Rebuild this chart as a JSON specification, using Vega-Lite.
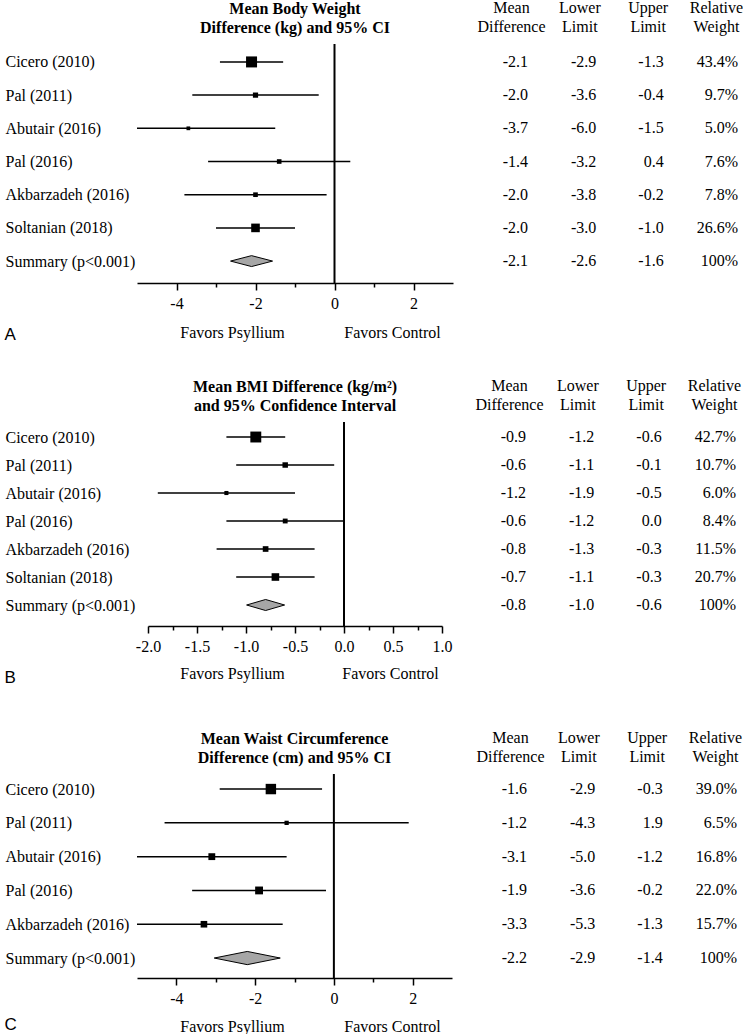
{
  "$schema": "https://vega.github.io/schema/vega-lite/v6.json",
  "padding": {"left": 4, "top": -1, "right": 0, "bottom": 0},
  "config": {
    "view": {"stroke": null},
    "font": "Liberation Serif",
    "locale": {"number": {"decimal": ".", "thousands": ",", "grouping": [3], "currency": ["$", ""], "minus": "-"}},
    "text": {"font": "Liberation Serif", "fontSize": 16, "color": "black"},
    "axis": {"labelFont": "Liberation Serif", "labelFontSize": 16, "labelColor": "black", "titleFont": "Liberation Serif", "titleFontSize": 16, "titleFontWeight": "normal", "titleColor": "black", "domainColor": "black", "tickColor": "black", "grid": false},
    "title": {"font": "Liberation Serif", "fontSize": 16, "fontWeight": "bold", "color": "black", "lineHeight": 19, "anchor": "middle", "frame": "group", "offset": 7}
  },
  "datasets": {
    "rows": [
      {"panel": "A", "study": "Cicero (2010)", "kind": "study", "mean": -2.1, "lower": -2.9, "upper": -1.3, "weight": 0.434},
      {"panel": "A", "study": "Pal (2011)", "kind": "study", "mean": -2.0, "lower": -3.6, "upper": -0.4, "weight": 0.097},
      {"panel": "A", "study": "Abutair (2016)", "kind": "study", "mean": -3.7, "lower": -6.0, "upper": -1.5, "weight": 0.050},
      {"panel": "A", "study": "Pal (2016)", "kind": "study", "mean": -1.4, "lower": -3.2, "upper": 0.4, "weight": 0.076},
      {"panel": "A", "study": "Akbarzadeh (2016)", "kind": "study", "mean": -2.0, "lower": -3.8, "upper": -0.2, "weight": 0.078},
      {"panel": "A", "study": "Soltanian (2018)", "kind": "study", "mean": -2.0, "lower": -3.0, "upper": -1.0, "weight": 0.266},
      {"panel": "A", "study": "Summary (p<0.001)", "kind": "summary", "mean": -2.1, "lower": -2.6, "upper": -1.6, "weight": 1.0},
      {"panel": "B", "study": "Cicero (2010)", "kind": "study", "mean": -0.9, "lower": -1.2, "upper": -0.6, "weight": 0.427},
      {"panel": "B", "study": "Pal (2011)", "kind": "study", "mean": -0.6, "lower": -1.1, "upper": -0.1, "weight": 0.107},
      {"panel": "B", "study": "Abutair (2016)", "kind": "study", "mean": -1.2, "lower": -1.9, "upper": -0.5, "weight": 0.060},
      {"panel": "B", "study": "Pal (2016)", "kind": "study", "mean": -0.6, "lower": -1.2, "upper": 0.0, "weight": 0.084},
      {"panel": "B", "study": "Akbarzadeh (2016)", "kind": "study", "mean": -0.8, "lower": -1.3, "upper": -0.3, "weight": 0.115},
      {"panel": "B", "study": "Soltanian (2018)", "kind": "study", "mean": -0.7, "lower": -1.1, "upper": -0.3, "weight": 0.207},
      {"panel": "B", "study": "Summary (p<0.001)", "kind": "summary", "mean": -0.8, "lower": -1.0, "upper": -0.6, "weight": 1.0},
      {"panel": "C", "study": "Cicero (2010)", "kind": "study", "mean": -1.6, "lower": -2.9, "upper": -0.3, "weight": 0.390},
      {"panel": "C", "study": "Pal (2011)", "kind": "study", "mean": -1.2, "lower": -4.3, "upper": 1.9, "weight": 0.065},
      {"panel": "C", "study": "Abutair (2016)", "kind": "study", "mean": -3.1, "lower": -5.0, "upper": -1.2, "weight": 0.168},
      {"panel": "C", "study": "Pal (2016)", "kind": "study", "mean": -1.9, "lower": -3.6, "upper": -0.2, "weight": 0.220},
      {"panel": "C", "study": "Akbarzadeh (2016)", "kind": "study", "mean": -3.3, "lower": -5.3, "upper": -1.3, "weight": 0.157},
      {"panel": "C", "study": "Summary (p<0.001)", "kind": "summary", "mean": -2.2, "lower": -2.9, "upper": -1.4, "weight": 1.0}
    ]
  },
  "columns": 1,
  "spacing": 35,
  "concat": [
    {
      "hconcat": [
        {
          "width": 316, "height": 239,
          "title": {"text": ["Mean Body Weight", "Difference (kg) and 95% CI"]},
          "data": {"name": "rows"},
          "transform": [{"filter": "datum.panel === 'A'"}],
          "layer": [
            {
              "transform": [{"filter": "datum.kind === 'study'"}],
              "mark": {"type": "rule", "strokeWidth": 1.5, "color": "black", "clip": true},
              "encoding": {
                "y": {"field": "study", "type": "nominal", "sort": null, "scale": {"type": "point", "padding": 0.6, "align": 0.45, "domain": ["Cicero (2010)", "Pal (2011)", "Abutair (2016)", "Pal (2016)", "Akbarzadeh (2016)", "Soltanian (2018)", "Summary (p<0.001)"]}, "axis": {"title": "A", "titleAngle": 0, "titleAlign": "left", "titleBaseline": "middle", "titleX": -133, "titleY": 290, "titleFont": "Liberation Sans", "titleFontSize": 17, "domain": false, "ticks": false, "tickSize": 0, "labelAlign": "left", "labelPadding": 132, "labelLimit": 300}},
                "x": {"field": "lower", "type": "quantitative", "scale": {"domain": [-5, 3], "nice": false, "zero": false}, "axis": {"orient": "bottom", "title": "Favors Psyllium", "titleX": 95, "titleY": 49, "titleAlign": "center", "titleBaseline": "middle", "values": [-4, -3, -2, -1, 0, 1, 2], "labelExpr": "datum.value % 2 === 0 ? datum.label : ''", "tickSize": {"condition": {"test": "datum.value % 2 === 0", "value": 7}, "value": 4}, "tickWidth": 1.5, "domainWidth": 1.5, "labelFlush": false, "labelBaseline": "middle", "labelPadding": 13}},
                "x2": {"field": "upper"}
              }
            },
            {
              "transform": [{"filter": "datum.kind === 'study'"}],
              "mark": {"type": "point", "shape": "square", "filled": true, "color": "black", "opacity": 1},
              "encoding": {
                "y": {"field": "study", "type": "nominal", "sort": null, "scale": {"type": "point", "padding": 0.6, "align": 0.45, "domain": ["Cicero (2010)", "Pal (2011)", "Abutair (2016)", "Pal (2016)", "Akbarzadeh (2016)", "Soltanian (2018)", "Summary (p<0.001)"]}, "axis": {"title": "A", "titleAngle": 0, "titleAlign": "left", "titleBaseline": "middle", "titleX": -133, "titleY": 290, "titleFont": "Liberation Sans", "titleFontSize": 17, "domain": false, "ticks": false, "tickSize": 0, "labelAlign": "left", "labelPadding": 132, "labelLimit": 300}},
                "x": {"field": "mean", "type": "quantitative", "axis": {"orient": "bottom", "title": "Favors Control", "titleX": 255, "titleY": 49, "titleAlign": "center", "titleBaseline": "middle", "domain": false, "ticks": false, "labels": false}},
                "size": {"field": "weight", "type": "quantitative", "scale": {"range": [0, 121], "zero": true, "nice": false}, "legend": null}
              }
            },
            {
              "transform": [{"filter": "datum.kind === 'summary'"}],
              "mark": {"type": "point", "shape": "M-1,0L0,-0.26L1,0L0,0.26Z", "size": 1764, "filled": true, "fill": "#a6a6a6", "stroke": "black", "strokeWidth": 1, "opacity": 1},
              "encoding": {
                "y": {"field": "study", "type": "nominal", "sort": null, "scale": {"type": "point", "padding": 0.6, "align": 0.45, "domain": ["Cicero (2010)", "Pal (2011)", "Abutair (2016)", "Pal (2016)", "Akbarzadeh (2016)", "Soltanian (2018)", "Summary (p<0.001)"]}, "axis": {"title": "A", "titleAngle": 0, "titleAlign": "left", "titleBaseline": "middle", "titleX": -133, "titleY": 290, "titleFont": "Liberation Sans", "titleFontSize": 17, "domain": false, "ticks": false, "tickSize": 0, "labelAlign": "left", "labelPadding": 132, "labelLimit": 300}},
                "x": {"field": "mean", "type": "quantitative", "axis": null}
              }
            },
            {
              "transform": [{"filter": "datum.kind === 'summary'"}],
              "mark": {"type": "rule", "strokeWidth": 2, "color": "black"},
              "encoding": {"x": {"datum": 0, "type": "quantitative", "axis": null}}
            }
          ],
          "resolve": {"axis": {"x": "independent"}}
        },
        {
          "width": 205, "height": 239,
          "data": {"name": "rows"},
          "transform": [{"filter": "datum.panel === 'A'"}],
          "encoding": {"y": {"field": "study", "type": "nominal", "sort": null, "scale": {"type": "point", "padding": 0.6, "align": 0.45, "domain": ["Cicero (2010)", "Pal (2011)", "Abutair (2016)", "Pal (2016)", "Akbarzadeh (2016)", "Soltanian (2018)", "Summary (p<0.001)"]}, "axis": null}},
          "layer": [
            {"mark": {"type": "text", "align": "right", "dx": 17}, "encoding": {"x": {"datum": "Mean Difference", "type": "nominal", "scale": {"type": "point", "padding": 0, "domain": ["Mean Difference", "Lower Limit", "Upper Limit", "Relative Weight"]}, "axis": {"orient": "top", "title": null, "domain": false, "ticks": false, "tickSize": 0, "labelPadding": 29, "labelAngle": 0, "labelExpr": "split(datum.label, ' ')", "labelLineHeight": 19, "labelBaseline": "bottom"}}, "text": {"field": "mean", "type": "quantitative", "format": ".1f"}}},
            {"mark": {"type": "text", "align": "right", "dx": 17}, "encoding": {"x": {"datum": "Lower Limit", "type": "nominal", "axis": {"orient": "top", "title": null, "domain": false, "ticks": false, "tickSize": 0, "labelPadding": 29, "labelAngle": 0, "labelExpr": "split(datum.label, ' ')", "labelLineHeight": 19, "labelBaseline": "bottom"}}, "text": {"field": "lower", "type": "quantitative", "format": ".1f"}}},
            {"mark": {"type": "text", "align": "right", "dx": 16}, "encoding": {"x": {"datum": "Upper Limit", "type": "nominal", "axis": {"orient": "top", "title": null, "domain": false, "ticks": false, "tickSize": 0, "labelPadding": 29, "labelAngle": 0, "labelExpr": "split(datum.label, ' ')", "labelLineHeight": 19, "labelBaseline": "bottom"}}, "text": {"field": "upper", "type": "quantitative", "format": ".1f"}}},
            {"mark": {"type": "text", "align": "right", "dx": 22}, "encoding": {"x": {"datum": "Relative Weight", "type": "nominal", "axis": {"orient": "top", "title": null, "domain": false, "ticks": false, "tickSize": 0, "labelPadding": 29, "labelAngle": 0, "labelExpr": "split(datum.label, ' ')", "labelLineHeight": 19, "labelBaseline": "bottom"}}, "text": {"condition": {"test": "datum.weight >= 1", "value": "100%"}, "field": "weight", "type": "quantitative", "format": ".1%"}}}
          ]
        }
      ],
      "spacing": 23
    },
    {
      "columns": 1,
      "spacing": 44,
      "concat": [
        {
          "hconcat": [
            {
              "width": 305, "height": 204,
              "title": {"text": ["Mean BMI Difference (kg/m²)", "and 95% Confidence Interval"], "dx": 5.5},
              "data": {"name": "rows"},
              "transform": [{"filter": "datum.panel === 'B'"}],
              "layer": [
                {
                  "transform": [{"filter": "datum.kind === 'study'"}],
                  "mark": {"type": "rule", "strokeWidth": 1.5, "color": "black", "clip": true},
                  "encoding": {
                    "y": {"field": "study", "type": "nominal", "sort": null, "scale": {"type": "point", "padding": 0.643, "align": 0.417, "domain": ["Cicero (2010)", "Pal (2011)", "Abutair (2016)", "Pal (2016)", "Akbarzadeh (2016)", "Soltanian (2018)", "Summary (p<0.001)"]}, "axis": {"title": "B", "titleAngle": 0, "titleAlign": "left", "titleBaseline": "middle", "titleX": -133, "titleY": 255, "titleFont": "Liberation Sans", "titleFontSize": 17, "domain": false, "ticks": false, "tickSize": 0, "labelAlign": "left", "labelPadding": 132, "labelLimit": 300}},
                    "x": {"field": "lower", "type": "quantitative", "scale": {"domain": [-2, 1], "range": [11, 305], "nice": false, "zero": false}, "axis": {"orient": "bottom", "title": "Favors Psyllium", "titleX": 95, "titleY": 47, "titleAlign": "center", "titleBaseline": "middle", "values": [-2, -1.75, -1.5, -1.25, -1, -0.75, -0.5, -0.25, 0, 0.25, 0.5, 0.75, 1], "format": ".1f", "labelExpr": "abs(datum.value * 2 - round(datum.value * 2)) < 0.000001 ? datum.label : ''", "tickSize": {"condition": {"test": "abs(datum.value * 2 - round(datum.value * 2)) < 0.000001", "value": 7}, "value": 4}, "tickWidth": 1.5, "domainWidth": 1.5, "labelFlush": false, "labelBaseline": "middle", "labelPadding": 13}},
                    "x2": {"field": "upper"}
                  }
                },
                {
                  "transform": [{"filter": "datum.kind === 'study'"}],
                  "mark": {"type": "point", "shape": "square", "filled": true, "color": "black", "opacity": 1},
                  "encoding": {
                    "y": {"field": "study", "type": "nominal", "sort": null, "scale": {"type": "point", "padding": 0.643, "align": 0.417, "domain": ["Cicero (2010)", "Pal (2011)", "Abutair (2016)", "Pal (2016)", "Akbarzadeh (2016)", "Soltanian (2018)", "Summary (p<0.001)"]}, "axis": {"title": "B", "titleAngle": 0, "titleAlign": "left", "titleBaseline": "middle", "titleX": -133, "titleY": 255, "titleFont": "Liberation Sans", "titleFontSize": 17, "domain": false, "ticks": false, "tickSize": 0, "labelAlign": "left", "labelPadding": 132, "labelLimit": 300}},
                    "x": {"field": "mean", "type": "quantitative", "axis": {"orient": "bottom", "title": "Favors Control", "titleX": 253, "titleY": 47, "titleAlign": "center", "titleBaseline": "middle", "domain": false, "ticks": false, "labels": false}},
                    "size": {"field": "weight", "type": "quantitative", "scale": {"range": [0, 121], "zero": true, "nice": false}, "legend": null}
                  }
                },
                {
                  "transform": [{"filter": "datum.kind === 'summary'"}],
                  "mark": {"type": "point", "shape": "M-1,0L0,-0.29L1,0L0,0.29Z", "size": 1444, "filled": true, "fill": "#a6a6a6", "stroke": "black", "strokeWidth": 1, "opacity": 1},
                  "encoding": {
                    "y": {"field": "study", "type": "nominal", "sort": null, "scale": {"type": "point", "padding": 0.643, "align": 0.417, "domain": ["Cicero (2010)", "Pal (2011)", "Abutair (2016)", "Pal (2016)", "Akbarzadeh (2016)", "Soltanian (2018)", "Summary (p<0.001)"]}, "axis": {"title": "B", "titleAngle": 0, "titleAlign": "left", "titleBaseline": "middle", "titleX": -133, "titleY": 255, "titleFont": "Liberation Sans", "titleFontSize": 17, "domain": false, "ticks": false, "tickSize": 0, "labelAlign": "left", "labelPadding": 132, "labelLimit": 300}},
                    "x": {"field": "mean", "type": "quantitative", "axis": null}
                  }
                },
                {
                  "transform": [{"filter": "datum.kind === 'summary'"}],
                  "mark": {"type": "rule", "strokeWidth": 2, "color": "black"},
                  "encoding": {"x": {"datum": 0, "type": "quantitative", "axis": null}}
                }
              ],
              "resolve": {"axis": {"x": "independent"}}
            },
            {
              "width": 205, "height": 204,
              "data": {"name": "rows"},
              "transform": [{"filter": "datum.panel === 'B'"}],
              "encoding": {"y": {"field": "study", "type": "nominal", "sort": null, "scale": {"type": "point", "padding": 0.643, "align": 0.417, "domain": ["Cicero (2010)", "Pal (2011)", "Abutair (2016)", "Pal (2016)", "Akbarzadeh (2016)", "Soltanian (2018)", "Summary (p<0.001)"]}, "axis": null}},
              "layer": [
                {"mark": {"type": "text", "align": "right", "dx": 17}, "encoding": {"x": {"datum": "Mean Difference", "type": "nominal", "scale": {"type": "point", "padding": 0, "domain": ["Mean Difference", "Lower Limit", "Upper Limit", "Relative Weight"]}, "axis": {"orient": "top", "title": null, "domain": false, "ticks": false, "tickSize": 0, "labelPadding": 29, "labelAngle": 0, "labelExpr": "split(datum.label, ' ')", "labelLineHeight": 19, "labelBaseline": "bottom"}}, "text": {"field": "mean", "type": "quantitative", "format": ".1f"}}},
                {"mark": {"type": "text", "align": "right", "dx": 17}, "encoding": {"x": {"datum": "Lower Limit", "type": "nominal", "axis": {"orient": "top", "title": null, "domain": false, "ticks": false, "tickSize": 0, "labelPadding": 29, "labelAngle": 0, "labelExpr": "split(datum.label, ' ')", "labelLineHeight": 19, "labelBaseline": "bottom"}}, "text": {"field": "lower", "type": "quantitative", "format": ".1f"}}},
                {"mark": {"type": "text", "align": "right", "dx": 16}, "encoding": {"x": {"datum": "Upper Limit", "type": "nominal", "axis": {"orient": "top", "title": null, "domain": false, "ticks": false, "tickSize": 0, "labelPadding": 29, "labelAngle": 0, "labelExpr": "split(datum.label, ' ')", "labelLineHeight": 19, "labelBaseline": "bottom"}}, "text": {"field": "upper", "type": "quantitative", "format": ".1f"}}},
                {"mark": {"type": "text", "align": "right", "dx": 22}, "encoding": {"x": {"datum": "Relative Weight", "type": "nominal", "axis": {"orient": "top", "title": null, "domain": false, "ticks": false, "tickSize": 0, "labelPadding": 29, "labelAngle": 0, "labelExpr": "split(datum.label, ' ')", "labelLineHeight": 19, "labelBaseline": "bottom"}}, "text": {"condition": {"test": "datum.weight >= 1", "value": "100%"}, "field": "weight", "type": "quantitative", "format": ".1%"}}}
              ]
            }
          ],
          "spacing": 22
        },
        {
          "hconcat": [
            {
              "width": 315, "height": 204,
              "title": {"text": ["Mean Waist Circumference", "Difference (cm) and 95% CI"]},
              "data": {"name": "rows"},
              "transform": [{"filter": "datum.panel === 'C'"}],
              "layer": [
                {
                  "transform": [{"filter": "datum.kind === 'study'"}],
                  "mark": {"type": "rule", "strokeWidth": 1.5, "color": "black", "clip": true},
                  "encoding": {
                    "y": {"field": "study", "type": "nominal", "sort": null, "scale": {"type": "point", "padding": 0.518, "align": 0.43, "domain": ["Cicero (2010)", "Pal (2011)", "Abutair (2016)", "Pal (2016)", "Akbarzadeh (2016)", "Summary (p<0.001)"]}, "axis": {"title": "C", "titleAngle": 0, "titleAlign": "left", "titleBaseline": "middle", "titleX": -133, "titleY": 250, "titleFont": "Liberation Sans", "titleFontSize": 17, "domain": false, "ticks": false, "tickSize": 0, "labelAlign": "left", "labelPadding": 132, "labelLimit": 300}},
                    "x": {"field": "lower", "type": "quantitative", "scale": {"domain": [-5, 3], "nice": false, "zero": false}, "axis": {"orient": "bottom", "title": "Favors Psyllium", "titleX": 95, "titleY": 48, "titleAlign": "center", "titleBaseline": "middle", "values": [-4, -3, -2, -1, 0, 1, 2], "labelExpr": "datum.value % 2 === 0 ? datum.label : ''", "tickSize": {"condition": {"test": "datum.value % 2 === 0", "value": 7}, "value": 4}, "tickWidth": 1.5, "domainWidth": 1.5, "labelFlush": false, "labelBaseline": "middle", "labelPadding": 13}},
                    "x2": {"field": "upper"}
                  }
                },
                {
                  "transform": [{"filter": "datum.kind === 'study'"}],
                  "mark": {"type": "point", "shape": "square", "filled": true, "color": "black", "opacity": 1},
                  "encoding": {
                    "y": {"field": "study", "type": "nominal", "sort": null, "scale": {"type": "point", "padding": 0.518, "align": 0.43, "domain": ["Cicero (2010)", "Pal (2011)", "Abutair (2016)", "Pal (2016)", "Akbarzadeh (2016)", "Summary (p<0.001)"]}, "axis": {"title": "C", "titleAngle": 0, "titleAlign": "left", "titleBaseline": "middle", "titleX": -133, "titleY": 250, "titleFont": "Liberation Sans", "titleFontSize": 17, "domain": false, "ticks": false, "tickSize": 0, "labelAlign": "left", "labelPadding": 132, "labelLimit": 300}},
                    "x": {"field": "mean", "type": "quantitative", "axis": {"orient": "bottom", "title": "Favors Control", "titleX": 255, "titleY": 48, "titleAlign": "center", "titleBaseline": "middle", "domain": false, "ticks": false, "labels": false}},
                    "size": {"field": "weight", "type": "quantitative", "scale": {"range": [0, 121], "zero": true, "nice": false}, "legend": null}
                  }
                },
                {
                  "transform": [{"filter": "datum.kind === 'summary'"}],
                  "mark": {"type": "point", "shape": "M-1,0L0,-0.2L1,0L0,0.2Z", "size": 4356, "filled": true, "fill": "#a6a6a6", "stroke": "black", "strokeWidth": 1, "opacity": 1},
                  "encoding": {
                    "y": {"field": "study", "type": "nominal", "sort": null, "scale": {"type": "point", "padding": 0.518, "align": 0.43, "domain": ["Cicero (2010)", "Pal (2011)", "Abutair (2016)", "Pal (2016)", "Akbarzadeh (2016)", "Summary (p<0.001)"]}, "axis": {"title": "C", "titleAngle": 0, "titleAlign": "left", "titleBaseline": "middle", "titleX": -133, "titleY": 250, "titleFont": "Liberation Sans", "titleFontSize": 17, "domain": false, "ticks": false, "tickSize": 0, "labelAlign": "left", "labelPadding": 132, "labelLimit": 300}},
                    "x": {"field": "mean", "type": "quantitative", "axis": null}
                  }
                },
                {
                  "transform": [{"filter": "datum.kind === 'summary'"}],
                  "mark": {"type": "rule", "strokeWidth": 2, "color": "black"},
                  "encoding": {"x": {"datum": 0, "type": "quantitative", "axis": null}}
                }
              ],
              "resolve": {"axis": {"x": "independent"}}
            },
            {
              "width": 205, "height": 204,
              "data": {"name": "rows"},
              "transform": [{"filter": "datum.panel === 'C'"}],
              "encoding": {"y": {"field": "study", "type": "nominal", "sort": null, "scale": {"type": "point", "padding": 0.518, "align": 0.43, "domain": ["Cicero (2010)", "Pal (2011)", "Abutair (2016)", "Pal (2016)", "Akbarzadeh (2016)", "Summary (p<0.001)"]}, "axis": null}},
              "layer": [
                {"mark": {"type": "text", "align": "right", "dx": 17}, "encoding": {"x": {"datum": "Mean Difference", "type": "nominal", "scale": {"type": "point", "padding": 0, "domain": ["Mean Difference", "Lower Limit", "Upper Limit", "Relative Weight"]}, "axis": {"orient": "top", "title": null, "domain": false, "ticks": false, "tickSize": 0, "labelPadding": 29, "labelAngle": 0, "labelExpr": "split(datum.label, ' ')", "labelLineHeight": 19, "labelBaseline": "bottom"}}, "text": {"field": "mean", "type": "quantitative", "format": ".1f"}}},
                {"mark": {"type": "text", "align": "right", "dx": 17}, "encoding": {"x": {"datum": "Lower Limit", "type": "nominal", "axis": {"orient": "top", "title": null, "domain": false, "ticks": false, "tickSize": 0, "labelPadding": 29, "labelAngle": 0, "labelExpr": "split(datum.label, ' ')", "labelLineHeight": 19, "labelBaseline": "bottom"}}, "text": {"field": "lower", "type": "quantitative", "format": ".1f"}}},
                {"mark": {"type": "text", "align": "right", "dx": 16}, "encoding": {"x": {"datum": "Upper Limit", "type": "nominal", "axis": {"orient": "top", "title": null, "domain": false, "ticks": false, "tickSize": 0, "labelPadding": 29, "labelAngle": 0, "labelExpr": "split(datum.label, ' ')", "labelLineHeight": 19, "labelBaseline": "bottom"}}, "text": {"field": "upper", "type": "quantitative", "format": ".1f"}}},
                {"mark": {"type": "text", "align": "right", "dx": 22}, "encoding": {"x": {"datum": "Relative Weight", "type": "nominal", "axis": {"orient": "top", "title": null, "domain": false, "ticks": false, "tickSize": 0, "labelPadding": 29, "labelAngle": 0, "labelExpr": "split(datum.label, ' ')", "labelLineHeight": 19, "labelBaseline": "bottom"}}, "text": {"condition": {"test": "datum.weight >= 1", "value": "100%"}, "field": "weight", "type": "quantitative", "format": ".1%"}}}
              ]
            }
          ],
          "spacing": 23
        }
      ]
    }
  ]
}
